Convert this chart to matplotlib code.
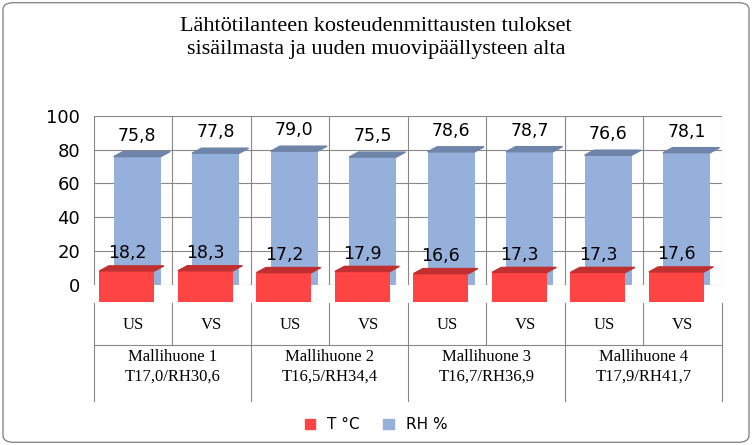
import matplotlib
matplotlib.use("Agg")
import matplotlib.pyplot as plt
from matplotlib.patches import Polygon, Patch, FancyBboxPatch
import matplotlib.transforms as mtransforms

sub_labels = ["US", "VS", "US", "VS", "US", "VS", "US", "VS"]
group_labels = ["Mallihuone 1\nT17,0/RH30,6", "Mallihuone 2\nT16,5/RH34,4",
                "Mallihuone 3\nT16,7/RH36,9", "Mallihuone 4\nT17,9/RH41,7"]
t_values = [18.2, 18.3, 17.2, 17.9, 16.6, 17.3, 17.3, 17.6]
rh_values = [75.8, 77.8, 79.0, 75.5, 78.6, 78.7, 76.6, 78.1]
yticks = [0, 20, 40, 60, 80, 100]

serif = "Liberation Serif"
fig = plt.figure(figsize=(7.52, 4.45), dpi=100)
fig.patches.append(FancyBboxPatch((0.004, 0.006), 0.992, 0.988, boxstyle="round,pad=0,rounding_size=0.015",
                                  transform=fig.transFigure, fill=False, ec="#888888", lw=1))
fig.text(0.5, 0.915, "Lähtötilanteen kosteudenmittausten tulokset\nsisäilmasta ja uuden muovipäällysteen alta",
         ha="center", va="center", fontsize=16, family=serif, linespacing=1.3)

ax = fig.add_axes([0.125, 0.36, 0.835, 0.38])
ax.set_xlim(-0.5, 7.5)
ax.set_ylim(0, 100)
ax.set_yticks(yticks)
ax.tick_params(axis="y", labelsize=13, length=0, pad=10)
ax.set_xticks([])
for s in ax.spines.values():
    s.set_visible(False)
ax.grid(axis="y", color="#888888", lw=0.8)
for b in range(9):
    ax.axvline(b - 0.5, color="#888888", lw=0.8)

blue, blue_top = "#95B0DA", "#6E84A8"
red, red_top = "#FF4444", "#C03030"
w = 0.6
dx, dy = 0.12, 3
for i, (t, rh) in enumerate(zip(t_values, rh_values)):
    xb = i + 0.05
    ax.bar(xb, rh, width=w, color=blue, zorder=2)
    ax.add_patch(Polygon([(xb - w/2, rh), (xb + w/2, rh), (xb + w/2 + dx, rh + dy), (xb - w/2 + dx, rh + dy)],
                         closed=True, color=blue_top, zorder=2))
    ax.text(xb, rh + dy + 4, f"{rh:.1f}".replace(".", ","), ha="center", va="bottom", fontsize=12.5)
    xr = i - 0.08
    base = -10
    ax.bar(xr, t, bottom=base, width=w + 0.1, color=red, zorder=3, clip_on=False)
    ax.add_patch(Polygon([(xr - (w+0.1)/2, base + t), (xr + (w+0.1)/2, base + t),
                          (xr + (w+0.1)/2 + dx, base + t + dy), (xr - (w+0.1)/2 + dx, base + t + dy)],
                         closed=True, color=red_top, zorder=3, clip_on=False))
    ax.text(xr, base + t + dy + 2, f"{t:.1f}".replace(".", ","), ha="center", va="bottom", fontsize=12.5, zorder=4)

trans = mtransforms.blended_transform_factory(ax.transData, fig.transFigure)
for i, lab in enumerate(sub_labels):
    ax.text(i, 0.27, lab, transform=trans, ha="center", va="center", fontsize=12, family=serif)
for g, lab in enumerate(group_labels):
    ax.text(2*g + 0.5, 0.175, lab, transform=trans, ha="center", va="center", fontsize=12, family=serif, linespacing=1.3)
for b in range(9):
    bottom = 0.225 if b % 2 == 1 else 0.1
    ax.plot([b - 0.5, b - 0.5], [bottom, 0.32], transform=trans, color="#888888", lw=0.8, clip_on=False)
ax.plot([-0.5, 7.5], [0.225, 0.225], transform=trans, color="#888888", lw=0.8, clip_on=False)

fig.legend(handles=[Patch(color=red, label="T °C"), Patch(color=blue, label="RH %")],
           loc="center", bbox_to_anchor=(0.5, 0.045), ncol=2, frameon=False, fontsize=11,
           handlelength=0.7, handleheight=0.7, columnspacing=1.5)

fig.savefig("out.png", dpi=100)
